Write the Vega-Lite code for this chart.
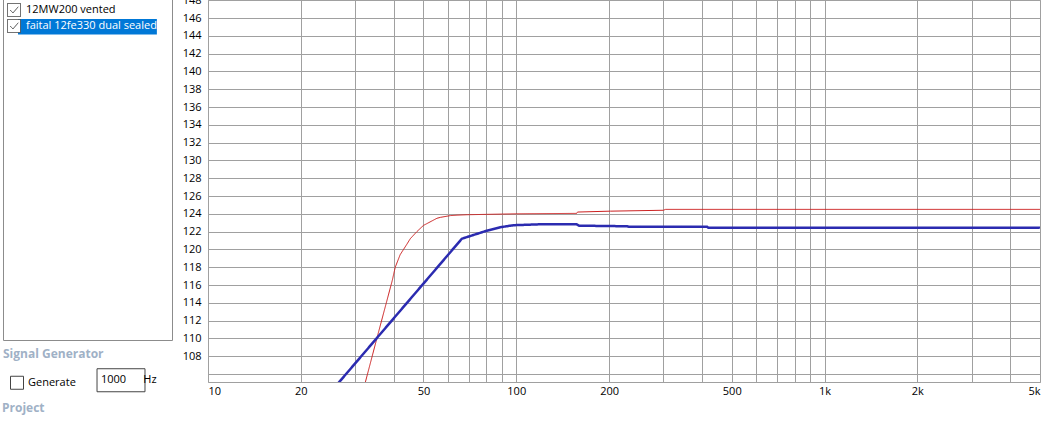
{
  "$schema": "https://vega.github.io/schema/vega-lite/v6.json",
  "autosize": "none",
  "width": 832,
  "height": 382,
  "padding": {"left": 208, "top": 0, "right": 2, "bottom": 42},
  "background": "#ffffff",
  "config": {
    "font": "Open Sans",
    "view": {"stroke": "#a0a0a0", "strokeWidth": 1},
    "axis": {
      "gridColor": "#a0a0a0",
      "gridOpacity": 1,
      "gridWidth": 1,
      "domain": false,
      "ticks": false,
      "labelColor": "#000000",
      "labelFontSize": 11,
      "labelFont": "Open Sans",
      "title": null
    },
    "legend": {
      "labelFont": "Open Sans",
      "labelFontSize": 11,
      "labelColor": "#000000",
      "titleFont": "Open Sans"
    }
  },
  "title": {
    "text": "Project",
    "orient": "bottom",
    "anchor": "start",
    "frame": "group",
    "dx": -206,
    "offset": 7,
    "fontSize": 12,
    "fontWeight": "bold",
    "color": "#a0b1c6",
    "font": "Open Sans"
  },
  "layer": [
    {
      "data": {
        "values": [
          {"series": "12MW200 vented", "freq": 32.35, "spl": 105.0},
          {"series": "12MW200 vented", "freq": 35.3, "spl": 110.0},
          {"series": "12MW200 vented", "freq": 39.6, "spl": 116.5},
          {"series": "12MW200 vented", "freq": 40.5, "spl": 118.0},
          {"series": "12MW200 vented", "freq": 42.0, "spl": 119.4},
          {"series": "12MW200 vented", "freq": 44.2, "spl": 120.6},
          {"series": "12MW200 vented", "freq": 45.3, "spl": 121.2},
          {"series": "12MW200 vented", "freq": 47.6, "spl": 122.0},
          {"series": "12MW200 vented", "freq": 50.0, "spl": 122.7},
          {"series": "12MW200 vented", "freq": 51.3, "spl": 122.9},
          {"series": "12MW200 vented", "freq": 55.3, "spl": 123.5},
          {"series": "12MW200 vented", "freq": 56.7, "spl": 123.6},
          {"series": "12MW200 vented", "freq": 61.1, "spl": 123.8},
          {"series": "12MW200 vented", "freq": 64.2, "spl": 123.85},
          {"series": "12MW200 vented", "freq": 69.3, "spl": 123.9},
          {"series": "12MW200 vented", "freq": 100, "spl": 124.0},
          {"series": "12MW200 vented", "freq": 157, "spl": 124.05},
          {"series": "12MW200 vented", "freq": 158, "spl": 124.2},
          {"series": "12MW200 vented", "freq": 202, "spl": 124.3},
          {"series": "12MW200 vented", "freq": 300, "spl": 124.4},
          {"series": "12MW200 vented", "freq": 305, "spl": 124.5},
          {"series": "12MW200 vented", "freq": 5000, "spl": 124.5},
          {"series": "faital 12fe330 dual sealed", "freq": 26.5, "spl": 105.0},
          {"series": "faital 12fe330 dual sealed", "freq": 66.6, "spl": 121.2},
          {"series": "faital 12fe330 dual sealed", "freq": 72.6, "spl": 121.62},
          {"series": "faital 12fe330 dual sealed", "freq": 80.2, "spl": 122.1},
          {"series": "faital 12fe330 dual sealed", "freq": 88.7, "spl": 122.49},
          {"series": "faital 12fe330 dual sealed", "freq": 97.9, "spl": 122.72},
          {"series": "faital 12fe330 dual sealed", "freq": 119, "spl": 122.82},
          {"series": "faital 12fe330 dual sealed", "freq": 157, "spl": 122.82},
          {"series": "faital 12fe330 dual sealed", "freq": 160, "spl": 122.67},
          {"series": "faital 12fe330 dual sealed", "freq": 229, "spl": 122.6},
          {"series": "faital 12fe330 dual sealed", "freq": 232, "spl": 122.55},
          {"series": "faital 12fe330 dual sealed", "freq": 416, "spl": 122.55},
          {"series": "faital 12fe330 dual sealed", "freq": 420, "spl": 122.44},
          {"series": "faital 12fe330 dual sealed", "freq": 5000, "spl": 122.44}
        ]
      },
      "mark": {"type": "line", "clip": true},
      "encoding": {
        "x": {
          "field": "freq",
          "type": "quantitative",
          "scale": {"type": "log", "domain": [10, 5000], "nice": false},
          "axis": {
            "values": [10, 20, 30, 40, 50, 60, 70, 80, 90, 100, 200, 300, 400, 500, 600, 700, 800, 900, 1000, 2000, 3000, 4000, 5000],
            "labelExpr": "(datum.value == 10 || datum.value == 20 || datum.value == 50 || datum.value == 100 || datum.value == 200 || datum.value == 500) ? ('' + datum.value) : ((datum.value == 1000 || datum.value == 2000 || datum.value == 5000) ? ((datum.value / 1000) + 'k') : '')",
            "labelFlush": true,
            "labelOverlap": false,
            "labelPadding": 3
          }
        },
        "y": {
          "field": "spl",
          "type": "quantitative",
          "scale": {"domain": [105.1, 148.03], "nice": false, "zero": false},
          "axis": {
            "values": [106, 108, 110, 112, 114, 116, 118, 120, 122, 124, 126, 128, 130, 132, 134, 136, 138, 140, 142, 144, 146, 148],
            "labelExpr": "datum.value < 107 ? '' : datum.label",
            "labelOverlap": false,
            "labelPadding": 7
          }
        },
        "color": {
          "field": "series",
          "type": "nominal",
          "scale": {"domain": ["faital 12fe330 dual sealed", "12MW200 vented"], "range": ["#2b2bb0", "#cc2020"]},
          "legend": null
        },
        "strokeWidth": {
          "field": "series",
          "type": "ordinal",
          "scale": {"domain": ["faital 12fe330 dual sealed", "12MW200 vented"], "range": [2.5, 1]},
          "legend": null
        },
        "strokeDash": {
          "field": "series",
          "type": "nominal",
          "scale": {"domain": ["12MW200 vented", "faital 12fe330 dual sealed"], "range": [[1, 0], [1, 0]]},
          "legend": {
            "title": " ",
            "titleOrient": "bottom",
            "titlePadding": 279,
            "titleFontSize": 11,
            "orient": "none",
            "legendX": -205,
            "legendY": -12,
            "padding": 15,
            "strokeColor": "#8c8c8c",
            "symbolType": "M-1,-1H1V1H-1Z M-0.6,0 L-0.15,0.45 L0.65,-0.5",
            "symbolSize": 169,
            "symbolOffset": -11,
            "symbolStrokeColor": "#444444",
            "symbolFillColor": "#ffffff",
            "symbolStrokeWidth": 1,
            "symbolOpacity": 1,
            "labelOffset": 5,
            "rowPadding": -2,
            "encode": {
              "labels": {"update": {"fill": {"signal": "datum.index === 1 ? '#ffffff' : '#000000'"}}},
              "entries": {"update": {"fill": {"signal": "datum.index === 1 ? '#0078d7' : 'transparent'"}}}
            }
          }
        }
      }
    },
    {
      "data": {"values": [{"control": "Generate"}, {"control": "1000 Hz"}]},
      "mark": {"type": "point", "opacity": 0, "color": "#444444"},
      "encoding": {
        "shape": {
          "field": "control",
          "type": "nominal",
          "scale": {"domain": ["Generate", "1000 Hz"], "range": ["M-1,-1H1V1H-1Z", "M1.08,-1.77H8.46V1.77H1.08Z"]},
          "legend": {
            "title": "Signal Generator",
            "orient": "none",
            "legendX": -205,
            "legendY": 349,
            "padding": 0,
            "titleFontSize": 12,
            "titleFontWeight": "bold",
            "titleColor": "#a0b1c6",
            "titlePadding": 12,
            "direction": "horizontal",
            "columns": 2,
            "columnPadding": -13,
            "symbolSize": 169,
            "symbolOffset": 7,
            "symbolOpacity": 1,
            "symbolStrokeWidth": 1,
            "labelOffset": 4,
            "labelExpr": "replace(datum.label, ' ', '\u00a0\u00a0\u00a0\u00a0\u00a0\u00a0')"
          }
        }
      }
    }
  ]
}
